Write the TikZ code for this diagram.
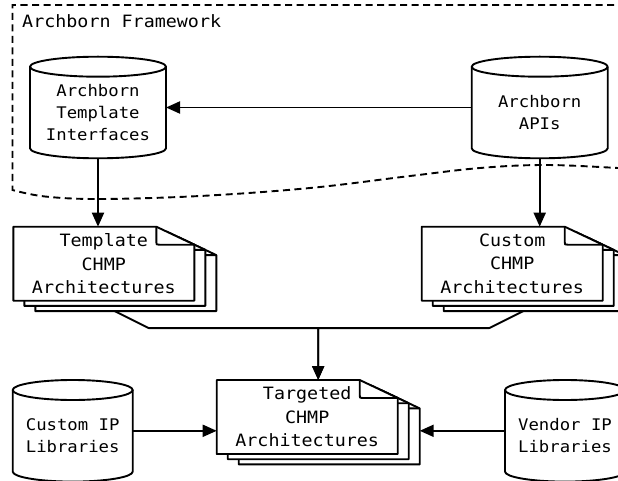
\documentclass[tikz,border=0pt]{standalone}
\usepackage{fontspec}
\newfontfamily\lblfont[FakeStretch=1.08]{DejaVu Sans Mono}
\usetikzlibrary{arrows.meta}

\tikzset{
  line/.style={line width=1.9pt, line join=round},
  flow/.style={line, -{Triangle[length=14pt,width=12pt]}},
  framestyle/.style={line width=1.9pt, dash pattern=on 7pt off 4.5pt},
  doctext/.style={font=\lblfont\fontsize{17}{23.5}\selectfont, align=center, inner sep=0pt},
  cyltext/.style={font=\lblfont\fontsize{16}{22}\selectfont, align=center, inner sep=0pt},
  anchorbox/.style={inner sep=0pt, outer sep=0pt, draw=none},
}

% page geometry of the document stacks
\def\pw{181}\def\ph{74}\def\fdx{38}\def\fdy{18}
\def\ox{11}\def\oy{5.2}

% one page with a folded top-right corner: #1 = left, #2 = top
\newcommand\docpage[2]{%
  \filldraw[line, fill=white] (#1,#2) -- ({#1+\pw-\fdx},#2) -- ({#1+\pw},{#2+\fdy})
    -- ({#1+\pw},{#2+\ph}) -- (#1,{#2+\ph}) -- cycle;
  \draw[line] ({#1+\pw-\fdx},#2) -- ({#1+\pw-\fdx},{#2+\fdy-3})
    .. controls ({#1+\pw-\fdx},{#2+\fdy}) .. ({#1+\pw-\fdx+3},{#2+\fdy}) -- ({#1+\pw},{#2+\fdy});
}

% stack of three pages: #1 = name, #2 = left, #3 = top, #4 = text
\newcommand\docstack[4]{%
  \docpage{#2+2*\ox}{#3+2*\oy}
  \docpage{#2+\ox}{#3+\oy}
  \docpage{#2}{#3}
  \node[anchorbox, minimum width={(\pw+2*\ox)*1pt}, minimum height={(\ph+2*\oy)*1pt}]
    (#1) at ({#2+(\pw+2*\ox)/2},{#3+(\ph+2*\oy)/2}) {};
  \node[doctext] (#1-t) at ({#2+\pw/2},{#3+\ph/2}) {#4};
}

% upright database cylinder: #1 = name, #2 = left, #3 = top, #4 = width, #5 = height, #6 = text
\newcommand\dbcyl[6]{%
  \fill[white] (#2,{#3+10}) rectangle ({#2+#4},{#3+#5-10});
  \filldraw[line, fill=white] (#2,{#3+10}) -- (#2,{#3+#5-10})
    .. controls (#2,{#3+#5-4.477}) and ({#2+#4/2-0.5523*#4/2},{#3+#5}) .. ({#2+#4/2},{#3+#5})
    .. controls ({#2+#4/2+0.5523*#4/2},{#3+#5}) and ({#2+#4},{#3+#5-4.477}) .. ({#2+#4},{#3+#5-10})
    -- ({#2+#4},{#3+10});
  \filldraw[line, fill=white] ({#2+#4/2},{#3+10}) ellipse [x radius={#4/2}, y radius=10];
  \node[anchorbox, minimum width=#4pt, minimum height=#5pt] (#1) at ({#2+#4/2},{#3+#5/2}) {};
  \node[cyltext] (#1-t) at ({#2+#4/2},{#3+#5/2+5}) {#6};
}

\begin{document}
\begin{tikzpicture}[x=1pt, y=-1pt]
  \useasboundingbox (0,0) rectangle (618,481);
  \clip (0,0) rectangle (618,481);

  % framework boundary with a wavy lower edge
  \draw[framestyle] (660,5) -- (12.5,5) -- (12.5,190) -- plot[smooth, tension=0.6] coordinates
    {(12.5,190) (45,196.5) (100,199) (200,196) (310,188) (410,176) (480,168) (545,165) (618,168) (660,171)};
  \node[doctext, anchor=base west] (fwlabel) at (22,28) {Archborn Framework};

  % data stores
  \dbcyl{tic}{30}{56.7}{136}{101.6}{Archborn\\Template\\Interfaces}
  \dbcyl{api}{471.7}{56.7}{136}{101.6}{Archborn\\APIs}
  \dbcyl{cip}{12.7}{380}{120}{101.6}{Custom IP\\Libraries}
  \dbcyl{vip}{505}{380}{120}{101.6}{Vendor IP\\Libraries}

  % architecture document stacks
  \docstack{tpl}{13.3}{226.7}{Template\\CHMP\\Architectures}
  \docstack{cst}{421.7}{226.7}{Custom\\CHMP\\Architectures}
  \docstack{tgt}{216.7}{380}{Targeted\\CHMP\\Architectures}

  % connectors
  \draw[flow] (api.west) -- (api.west -| tic.east);
  \draw[flow] (tic.south) -- (tic.south |- tpl.north);
  \draw[flow] (api.south) -- (api.south |- cst.north);
  \draw[flow] (tpl.south) -- ++(34,17) -| (tgt.north);
  \draw[flow] (cst.south) -- ++(-34,17) -| (tgt.north);
  \draw[flow] (cip.east) -- (cip.east -| tgt.west);
  \draw[flow] (vip.west) -- (vip.west -| tgt.east);
\end{tikzpicture}
\end{document}
